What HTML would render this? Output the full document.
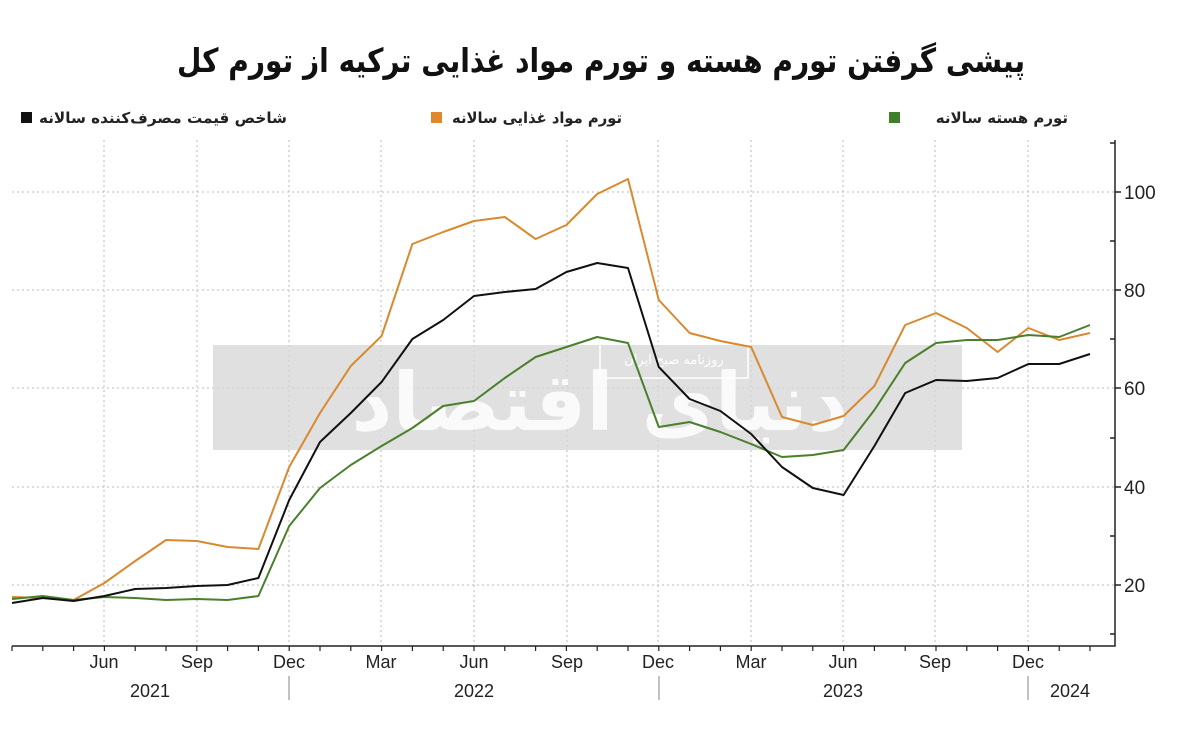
<!DOCTYPE html>
<html><head><meta charset="utf-8"><style>
html,body{margin:0;padding:0;background:#fff;}
svg{display:block;}
text{font-family:"Liberation Sans","DejaVu Sans",sans-serif;}
</style></head><body>
<svg width="1200" height="735" viewBox="0 0 1200 735" xmlns="http://www.w3.org/2000/svg">
<rect width="1200" height="735" fill="#fff"/>
<text x="601" y="72" text-anchor="middle" font-size="33" font-weight="bold" fill="#111" textLength="848" lengthAdjust="spacingAndGlyphs" style="font-family:'DejaVu Sans',sans-serif">پیشی گرفتن تورم هسته و تورم مواد غذایی ترکیه از تورم کل</text>
<rect x="21" y="112" width="11" height="11" fill="#111"/>
<text x="287" y="123" text-anchor="end" font-size="15" font-weight="bold" fill="#222" textLength="248" lengthAdjust="spacingAndGlyphs" style="font-family:'DejaVu Sans',sans-serif">شاخص قیمت مصرف‌کننده سالانه</text>
<rect x="431" y="112" width="11" height="11" fill="#e0892c"/>
<text x="622" y="123" text-anchor="end" font-size="15" font-weight="bold" fill="#222" textLength="170" lengthAdjust="spacingAndGlyphs" style="font-family:'DejaVu Sans',sans-serif">تورم مواد غذایی سالانه</text>
<rect x="889" y="112" width="11" height="11" fill="#3f7f2a"/>
<text x="1068" y="123" text-anchor="end" font-size="15" font-weight="bold" fill="#222" style="font-family:'DejaVu Sans',sans-serif">تورم هسته سالانه</text>
<g stroke="#bbb" stroke-width="1" stroke-dasharray="2,3">
<line x1="12" y1="192" x2="1115" y2="192"/><line x1="12" y1="290" x2="1115" y2="290"/>
<line x1="12" y1="388" x2="1115" y2="388"/><line x1="12" y1="487" x2="1115" y2="487"/>
<line x1="12" y1="585" x2="1115" y2="585"/>
<line x1="104" y1="140" x2="104" y2="646"/><line x1="197" y1="140" x2="197" y2="646"/>
<line x1="289" y1="140" x2="289" y2="646"/><line x1="381" y1="140" x2="381" y2="646"/>
<line x1="474" y1="140" x2="474" y2="646"/><line x1="567" y1="140" x2="567" y2="646"/>
<line x1="658" y1="140" x2="658" y2="646"/><line x1="751" y1="140" x2="751" y2="646"/>
<line x1="843" y1="140" x2="843" y2="646"/><line x1="935" y1="140" x2="935" y2="646"/>
<line x1="1028" y1="140" x2="1028" y2="646"/>
</g>
<rect x="213" y="345" width="749" height="105" fill="#d6d6d6" opacity="0.75"/>
<text x="600" y="430" text-anchor="middle" font-size="80" font-weight="bold" fill="#fff" opacity="0.85" style="font-family:'DejaVu Sans',sans-serif">دنیای اقتصاد</text>
<rect x="600" y="340" width="148" height="38" fill="none" stroke="#fff" stroke-width="1.5"/>
<text x="674" y="364" text-anchor="middle" font-size="13" fill="#fff" style="font-family:'DejaVu Sans',sans-serif">روزنامه صبح ایران</text>
<g stroke="#222" stroke-width="1.5" fill="none">
<polyline points="1115,140 1115,646 12,646"/>
<line x1="1115" y1="192" x2="1121" y2="192"/><line x1="1115" y1="290" x2="1121" y2="290"/>
<line x1="1115" y1="388" x2="1121" y2="388"/><line x1="1115" y1="487" x2="1121" y2="487"/>
<line x1="1115" y1="585" x2="1121" y2="585"/>
<line x1="1115" y1="143" x2="1110" y2="143"/><line x1="1115" y1="241" x2="1110" y2="241"/>
<line x1="1115" y1="339" x2="1110" y2="339"/><line x1="1115" y1="438" x2="1110" y2="438"/>
<line x1="1115" y1="536" x2="1110" y2="536"/><line x1="1115" y1="634" x2="1110" y2="634"/>
</g>
<path stroke="#222" stroke-width="1.2" d="M12 646v5M42.8 646v5M73.6 646v5M104.4 646v5M135.2 646v5M166 646v5M196.8 646v5M227.6 646v5M258.4 646v5M289.2 646v5M320 646v5M350.8 646v5M381.6 646v5M412.4 646v5M443.2 646v5M474 646v5M504.8 646v5M535.6 646v5M566.4 646v5M597.2 646v5M628 646v5M658.8 646v5M689.6 646v5M720.4 646v5M751.2 646v5M782 646v5M812.8 646v5M843.6 646v5M874.4 646v5M905.2 646v5M936 646v5M966.8 646v5M997.6 646v5M1028.4 646v5M1059.2 646v5M1090 646v5"/>
<g font-size="19" fill="#222">
<text x="1124" y="199">100</text><text x="1124" y="297">80</text><text x="1124" y="395">60</text>
<text x="1124" y="494">40</text><text x="1124" y="592">20</text>
</g>
<g font-size="18" fill="#222" text-anchor="middle">
<text x="104" y="668">Jun</text><text x="197" y="668">Sep</text><text x="289" y="668">Dec</text>
<text x="381" y="668">Mar</text><text x="474" y="668">Jun</text><text x="567" y="668">Sep</text>
<text x="658" y="668">Dec</text><text x="751" y="668">Mar</text><text x="843" y="668">Jun</text>
<text x="935" y="668">Sep</text><text x="1028" y="668">Dec</text>
<text x="150" y="697">2021</text><text x="474" y="697">2022</text><text x="843" y="697">2023</text><text x="1070" y="697">2024</text>
</g>
<g stroke="#999" stroke-width="1.2">
<line x1="289" y1="676" x2="289" y2="700"/><line x1="659" y1="676" x2="659" y2="700"/><line x1="1028" y1="676" x2="1028" y2="700"/>
</g>
<g fill="none" stroke-width="2" stroke-linejoin="round">
<polyline stroke="#d9892f" points="12,597 42.8,598 73.6,600 104.4,583 135.2,561 166,540 196.8,541 227.6,547 258.4,549 289.2,467 320,413 350.8,366 381.6,336 412.4,244 443.2,232 474,221 504.8,217 535.6,239 566.4,225 597.2,194 628,179 658.8,300 689.6,333 720.4,341 751.2,347 782,417 812.8,425 843.6,416 874.4,386 905.2,325 936,313 966.8,328 997.6,352 1028.4,328 1059.2,340 1090,333"/>
<polyline stroke="#4a7f2c" points="12,599 42.8,596 73.6,600 104.4,597 135.2,598 166,600 196.8,599 227.6,600 258.4,596 289.2,526 320,488 350.8,465 381.6,446 412.4,428 443.2,406 474,401 504.8,378 535.6,357 566.4,347 597.2,337 628,343 658.8,427 689.6,422 720.4,432 751.2,444 782,457 812.8,455 843.6,450 874.4,410 905.2,363 936,343 966.8,340 997.6,340 1028.4,335 1059.2,337 1090,325"/>
<polyline stroke="#111" points="12,603 42.8,598 73.6,601 104.4,596 135.2,589 166,588 196.8,586 227.6,585 258.4,578 289.2,500 320,442 350.8,413 381.6,382 412.4,339 443.2,320 474,296 504.8,292 535.6,289 566.4,272 597.2,263 628,268 658.8,367 689.6,399 720.4,411 751.2,434 782,467 812.8,488 843.6,495 874.4,446 905.2,393 936,380 966.8,381 997.6,378 1028.4,364 1059.2,364 1090,354"/>
</g>
</svg>
</body></html>
